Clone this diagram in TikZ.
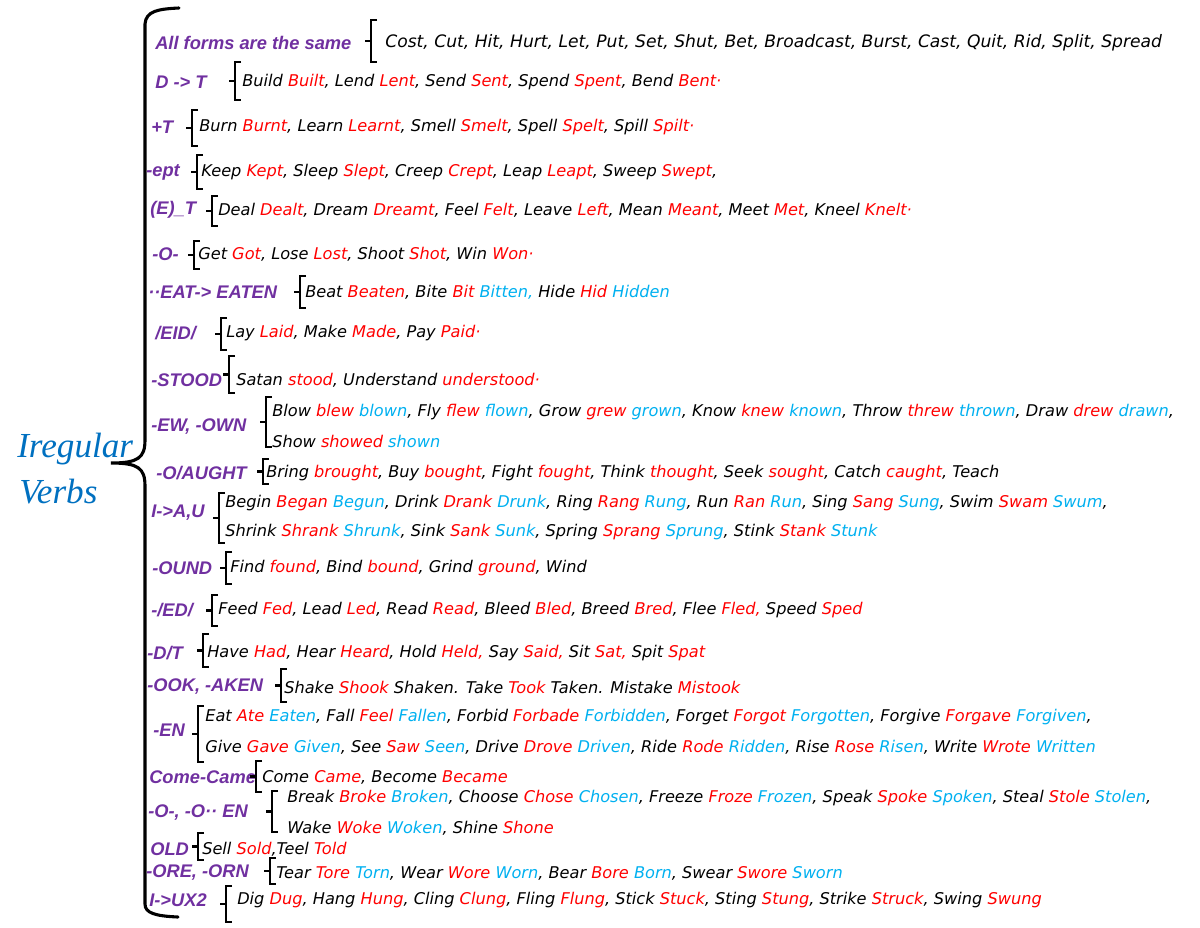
\documentclass[tikz,border=0pt]{standalone}
\usepackage{fontspec}
\setmainfont{DejaVu Sans}
\newfontfamily\lblfamily{Liberation Sans}
\newfontfamily\ttlfamily{Liberation Serif}
\usepackage {tikz}
\usetikzlibrary{calc}
\definecolor{lblpurple}{HTML}{7030A0}
\definecolor{pastred}{HTML}{FF0000}
\definecolor{ppblue}{HTML}{00B0F0}
\definecolor{ttlblue}{HTML}{0070C0}
\newcommand{\Vpast}[1]{\textcolor{pastred}{#1}}
\newcommand{\Vpp}[1]{\textcolor{ppblue}{#1}}
\tikzset{
    lbl/.style = {anchor=west, inner sep=0pt, text=lblpurple, font=\lblfamily\bfseries\itshape\fontsize{13}{15}\selectfont},
    wrd/.style = {anchor=west, inner sep=0pt, font=\itshape\fontsize{11.5}{14}\selectfont},
    widewrd/.style = {wrd, font=\itshape\fontsize{12.2}{14}\selectfont},
    ttl/.style = {anchor=base west, inner sep=0pt, text=ttlblue, font=\ttlfamily\itshape\fontsize{25}{30}\selectfont},
    brk/.style = {draw, line width=1.6pt},
    bigbrk/.style = {draw, line width=2.2pt, line cap=round}}
% small bracket: x, top, bottom
\newcommand{\brk}[3]{\draw[brk] ($(#1,#2)+(6,0)$) -- (#1,#2) -- (#1,#3) -- ++(6,0) (#1,{(#2+#3)/2}) -- ++(-6,0);}

\begin{document}
\begin{tikzpicture}[x=0.025cm,y=-0.025cm]
        \useasboundingbox (0,0) rectangle (1200,927);
        % title and main brace
        \path (17,457) node[ttl] (T1) {Iregular}
        (19,503) node[ttl] (T2) {Verbs};
        \draw[bigbrk] (179,8) .. controls (158,9) and (146,11) .. (145,24) -- (145,440)
        .. controls (145,458) and (138,463) .. (111,463)
        .. controls (138,463) and (145,468) .. (145,486) -- (145,904)
        .. controls (145,913) and (155,916) .. (178,917);
        % rows
        \path (155,43) node[lbl] (L1) {All forms are the same}
        (385,43) node[widewrd] (W1) {Cost, Cut, Hit, Hurt, Let, Put, Set, Shut, Bet, Broadcast, Burst, Cast, Quit, Rid, Split, Spread};
        \brk{371}{20}{62}
        \path (155,82) node[lbl] (L2) {D -> T}
        (242,82) node[wrd] (W2) {Build \Vpast{Built}, Lend \Vpast{Lent}, Send \Vpast{Sent}, Spend \Vpast{Spent}, Bend \Vpast{Bent·}};
        \brk{235}{62}{100}
        \path (151,127) node[lbl] (L3) {+T}
        (199,127) node[wrd] (W3) {Burn \Vpast{Burnt}, Learn \Vpast{Learnt}, Smell \Vpast{Smelt}, Spell \Vpast{Spelt}, Spill \Vpast{Spilt·}};
        \brk{192}{110}{146}
        \path (146,172) node[lbl] (L4) {-ept}
        (201,172) node[wrd] (W4) {Keep \Vpast{Kept}, Sleep \Vpast{Slept}, Creep \Vpast{Crept}, Leap \Vpast{Leapt}, Sweep \Vpast{Swept},};
        \brk{197}{155}{189}
        \path (150,210) node[lbl] (L5) {(E)\_T}
        (218,210) node[wrd] (W5) {Deal \Vpast{Dealt}, Dream \Vpast{Dreamt}, Feel \Vpast{Felt}, Leave \Vpast{Left}, Mean \Vpast{Meant}, Meet \Vpast{Met}, Kneel \Vpast{Knelt·}};
        \brk{212}{196}{226}
        \path (152,254) node[lbl] (L6) {-O-}
        (198,254) node[wrd] (W6) {Get \Vpast{Got}, Lose \Vpast{Lost}, Shoot \Vpast{Shot}, Win \Vpast{Won·}};
        \brk{194}{241}{269}
        \path (148,292) node[lbl] (L7) {··EAT-> EATEN}
        (305,292) node[wrd] (W7) {Beat \Vpast{Beaten}, Bite \Vpast{Bit} \Vpp{Bitten,} Hide \Vpast{Hid} \Vpp{Hidden}};
        \brk{300}{276}{308}
        \path (155,333) node[lbl] (L8) {/EID/}
        (226,333) node[wrd] (W8) {Lay \Vpast{Laid}, Make \Vpast{Made}, Pay \Vpast{Paid·}};
        \brk{221}{318}{350}
        \path (151,380) node[lbl] (L9) {-STOOD}
        (236,380) node[wrd] (W9) {Satan \Vpast{stood}, Understand \Vpast{understood·}};
        \brk{229}{356}{393}
        \path (151,427) node[lbl] (L10) {-EW, -OWN}
        (272,412) node[wrd] (W10a) {Blow \Vpast{blew} \Vpp{blown}, Fly \Vpast{flew} \Vpp{flown}, Grow \Vpast{grew} \Vpp{grown}, Know \Vpast{knew} \Vpp{known}, Throw \Vpast{threw} \Vpp{thrown}, Draw \Vpast{drew} \Vpp{drawn},}
        (272,441) node[wrd] (W10b) {Show \Vpast{showed} \Vpp{shown}};
        \brk{266}{397}{447}
        \path (156,473) node[lbl] (L11) {-O/AUGHT}
        (266,473) node[wrd] (W11) {Bring \Vpast{brought}, Buy \Vpast{bought}, Fight \Vpast{fought}, Think \Vpast{thought}, Seek \Vpast{sought}, Catch \Vpast{caught}, Teach};
        \brk{263}{459}{484}
        \path (151,513) node[lbl] (L12) {I->A,U}
        (225,503) node[wrd] (W12a) {Begin \Vpast{Began} \Vpp{Begun}, Drink \Vpast{Drank} \Vpp{Drunk}, Ring \Vpast{Rang} \Vpp{Rung}, Run \Vpast{Ran} \Vpp{Run}, Sing \Vpast{Sang} \Vpp{Sung}, Swim \Vpast{Swam} \Vpp{Swum},}
        (225,532) node[wrd] (W12b) {Shrink \Vpast{Shrank} \Vpp{Shrunk}, Sink \Vpast{Sank} \Vpp{Sunk}, Spring \Vpast{Sprang} \Vpp{Sprung}, Stink \Vpast{Stank} \Vpp{Stunk}};
        \brk{219}{493}{543}
        \path (152,568) node[lbl] (L13) {-OUND}
        (230,568) node[wrd] (W13) {Find \Vpast{found}, Bind \Vpast{bound}, Grind \Vpast{ground}, Wind};
        \brk{226}{552}{584}
        \path (151,610) node[lbl] (L14) {-/ED/}
        (218,610) node[wrd] (W14) {Feed \Vpast{Fed}, Lead \Vpast{Led}, Read \Vpast{Read}, Bleed \Vpast{Bled}, Breed \Vpast{Bred}, Flee \Vpast{Fled,} Speed \Vpast{Sped}};
        \brk{212}{595}{626}
        \path (147,653) node[lbl] (L15) {-D/T}
        (207,653) node[wrd] (W15) {Have \Vpast{Had}, Hear \Vpast{Heard}, Hold \Vpast{Held,} Say \Vpast{Said,} Sit \Vpast{Sat,} Spit \Vpast{Spat}};
        \brk{203}{634}{667}
        \path (147,687) node[lbl] (L16) {-OOK, -AKEN}
        (284,687) node[wrd] (W16) {Shake \Vpast{Shook} Shaken. Take \Vpast{Took} Taken. Mistake \Vpast{Mistook}};
        \brk{281}{669}{702}
        \path (153,730) node[lbl] (L17) {-EN}
        (205,717) node[wrd] (W17a) {Eat \Vpast{Ate} \Vpp{Eaten}, Fall \Vpast{Feel} \Vpp{Fallen}, Forbid \Vpast{Forbade} \Vpp{Forbidden}, Forget \Vpast{Forgot} \Vpp{Forgotten}, Forgive \Vpast{Forgave} \Vpp{Forgiven},}
        (205,747) node[wrd] (W17b) {Give \Vpast{Gave} \Vpp{Given}, See \Vpast{Saw} \Vpp{Seen}, Drive \Vpast{Drove} \Vpp{Driven}, Ride \Vpast{Rode} \Vpp{Ridden}, Rise \Vpast{Rose} \Vpp{Risen}, Write \Vpast{Wrote} \Vpp{Written}};
        \brk{198}{706}{762}
        \path (149,777) node[lbl] (L18) {Come-Came}
        (262,777) node[wrd] (W18) {Come \Vpast{Came}, Become \Vpast{Became}};
        \brk{256}{761}{792}
        \path (148,813) node[lbl] (L19) {-O-, -O·· EN}
        (287,798) node[wrd] (W19a) {Break \Vpast{Broke} \Vpp{Broken}, Choose \Vpast{Chose} \Vpp{Chosen}, Freeze \Vpast{Froze} \Vpp{Frozen}, Speak \Vpast{Spoke} \Vpp{Spoken}, Steal \Vpast{Stole} \Vpp{Stolen},}
        (287,828) node[wrd] (W19b) {Wake \Vpast{Woke} \Vpp{Woken}, Shine \Vpast{Shone}};
        \brk{272}{791}{832}
        \path (150,849) node[lbl] (L20) {OLD}
        (202,849) node[wrd] (W20) {Sell \Vpast{Sold},Teel \Vpast{Told}};
        \brk{198}{833}{860}
        \path (146,873) node[lbl] (L21) {-ORE, -ORN}
        (276,873) node[wrd] (W21) {Tear \Vpast{Tore} \Vpp{Torn}, Wear \Vpast{Wore} \Vpp{Worn}, Bear \Vpast{Bore} \Vpp{Born}, Swear \Vpast{Swore} \Vpp{Sworn}};
        \brk{270}{858}{884}
        \path (149,900) node[lbl] (L22) {I->UX2}
        (237,900) node[wrd] (W22) {Dig \Vpast{Dug}, Hang \Vpast{Hung}, Cling \Vpast{Clung}, Fling \Vpast{Flung}, Stick \Vpast{Stuck}, Sting \Vpast{Stung}, Strike \Vpast{Struck}, Swing \Vpast{Swung}};
        \brk{226}{886}{922}
\end{tikzpicture}
\end{document}
